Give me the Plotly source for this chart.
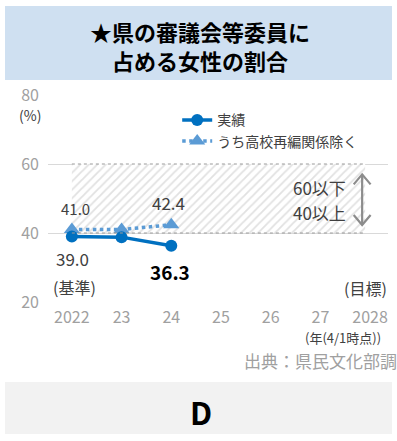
import plotly.graph_objects as go

years = ["2022", "23", "24", "25", "26", "27", "2028"]
actual = [39.0, 38.8, 36.3]
excl_school = [41.0, 41.0, 42.4]
target_low, target_high = 40, 60
y_ticks = [20, 40, 60, 80]

FONT = "Noto Sans CJK JP"
GRAY = "#a0a0a0"
DARK = "#404040"
BLUE = "#0070c0"
LBLUE = "#5b9bd5"
BAND_END = 5.9

xi = list(range(len(years)))

fig = go.Figure()

# target band (40-60) with diagonal hatching
fig.add_trace(go.Scatter(
    x=[0, BAND_END, BAND_END, 0, 0],
    y=[target_low, target_low, target_high, target_high, target_low],
    fill="toself", mode="none", fillcolor="rgba(255,255,255,0)",
    fillpattern=dict(shape="/", fgcolor="#c4c4c4", bgcolor="white", size=6, solidity=0.3),
    hoverinfo="skip", showlegend=False))
for yv in (target_low, target_high):
    fig.add_shape(type="line", x0=0, x1=BAND_END, y0=yv, y1=yv, xref="x", yref="y",
                  line=dict(color="#9a9a9a", width=1, dash="dot"))

fig.add_trace(go.Scatter(
    x=xi[:len(excl_school)], y=excl_school, mode="lines+markers", name="うち高校再編関係除く",
    line=dict(color=LBLUE, width=3.5, dash="dot"),
    marker=dict(symbol="triangle-up", size=14, color=LBLUE)))
fig.add_trace(go.Scatter(
    x=xi[:len(actual)], y=actual, mode="lines+markers", name="実績",
    line=dict(color=BLUE, width=3.5),
    marker=dict(symbol="circle", size=12, color=BLUE)))

fig.update_layout(
    width=397, height=441, paper_bgcolor="white", plot_bgcolor="white",
    margin=dict(l=48, r=9, t=95, b=139),
    font=dict(family=FONT, size=14, color=DARK),
    showlegend=True,
    legend=dict(x=0.38, y=0.955, xanchor="left", yanchor="top", traceorder="reversed",
                bgcolor="rgba(0,0,0,0)", font=dict(size=14, color=DARK),
                tracegroupgap=4),
    xaxis=dict(range=[-0.48, 6.36], tickvals=xi, ticktext=years, showgrid=False,
               zeroline=False, showline=False, ticks="", ticklabelstandoff=4,
               tickfont=dict(size=16, color=GRAY), fixedrange=True),
    yaxis=dict(range=[20, 80], tickvals=y_ticks, showgrid=True, gridcolor="#d9d9d9",
               gridwidth=1.3, zeroline=False, showline=False, ticks="",
               tickfont=dict(size=16, color=GRAY), ticklabelstandoff=8, fixedrange=True),
)


def px_x(p):
    return (p - 48) / 340


def px_y(p):
    return (302 - p) / 207


# header and footer panels
fig.add_shape(type="rect", xref="paper", yref="paper", layer="below",
              x0=px_x(5), x1=px_x(392), y0=px_y(80), y1=px_y(6),
              fillcolor="#cfe0f1", line=dict(width=0))
fig.add_shape(type="rect", xref="paper", yref="paper", layer="below",
              x0=px_x(5), x1=px_x(392), y0=px_y(434), y1=px_y(382),
              fillcolor="#f2f2f2", line=dict(width=0))

# vertical double arrow beside the band
ax_x = 5.84
dx, dy = 0.17, 2.9
y_top, y_bot = 57.0, 42.3
arrow = dict(color="#8c8c8c", width=2.2)
fig.add_shape(type="line", x0=ax_x, x1=ax_x, y0=y_bot, y1=y_top, xref="x", yref="y", line=arrow)
fig.add_shape(type="path", xref="x", yref="y", line=arrow,
              path=f"M {ax_x - dx},{y_top - dy} L {ax_x},{y_top} L {ax_x + dx},{y_top - dy}")
fig.add_shape(type="path", xref="x", yref="y", line=arrow,
              path=f"M {ax_x - dx},{y_bot + dy} L {ax_x},{y_bot} L {ax_x + dx},{y_bot + dy}")

texts = [
    ("★県の審議会等委員に", 200, 31, 22, "#000000", True),
    ("占める女性の割合", 200, 60, 22, "#000000", True),
    ("(%)", 30, 115, 14, DARK, False),
    ("41.0", 75, 208, 15, DARK, False),
    ("42.4", 168, 202, 17, DARK, False),
    ("39.0", 72, 258, 17, DARK, False),
    ("(基準)", 74, 287, 16, DARK, False),
    ("36.3", 170, 271, 19, "#000000", True),
    ("60以下", 319, 187, 17, DARK, False),
    ("40以上", 319, 212, 17, DARK, False),
    ("(目標)", 365, 288, 16, DARK, False),
    ("(年(4/1時点))", 343, 337, 13, DARK, False),
    ("出典：県民文化部調", 320, 360, 17, GRAY, False),
    ("D", 201, 411, 31, "#000000", True),
]
for t, x, y, size, color, bold in texts:
    fig.add_annotation(x=px_x(x), y=px_y(y), xref="paper", yref="paper", showarrow=False,
                       text=f"<b>{t}</b>" if bold else t, xanchor="center", yanchor="middle",
                       font=dict(size=size, color=color, family=FONT))

fig.write_html("out.html")
